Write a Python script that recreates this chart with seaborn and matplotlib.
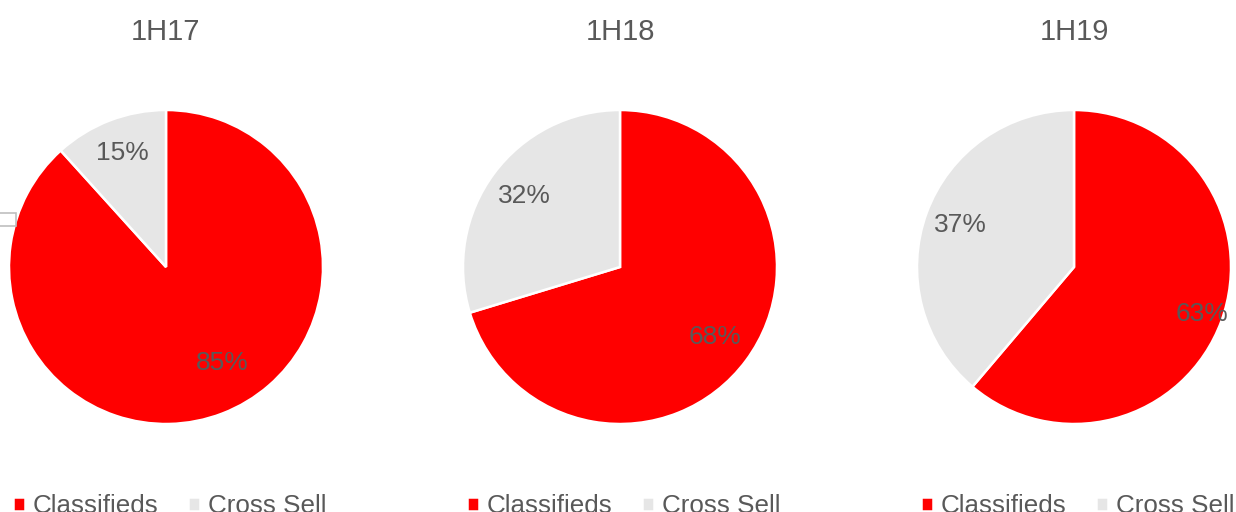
import numpy as np
import matplotlib
matplotlib.use("Agg")
import matplotlib.pyplot as plt
from matplotlib.patches import Rectangle
import seaborn as sns

# data
periods = ["1H17", "1H18", "1H19"]
segments = ["Classifieds", "Cross Sell"]
# printed labels
classifieds_lbl = [85, 68, 63]
cross_sell_lbl = [15, 32, 37]
# slice sizes as drawn in the picture (slightly differ from the printed labels)
classifieds = [88.3, 70.3, 61.2]
cross_sell = [11.7, 29.7, 38.8]

colors = ["#FF0000", "#E6E6E6"]
text_color = "#595959"

sns.set_theme(style="white")
plt.rcParams["font.family"] = ["Liberation Sans", "DejaVu Sans"]

W, H = 1236, 512
fig = plt.figure(figsize=(W / 100, H / 100), dpi=100)

centers_x = [166, 620, 1074]
cy, r = 267, 157
# label distance (fraction of radius) and angle nudge per slice, Excel "best fit" style
label_dist = [(0.71, 0.78), (0.75, 0.76), (0.87, 0.77)]
label_nudge = [(9, 0), (0, 0), (0, 0)]

for i, period in enumerate(periods):
    cx = centers_x[i]
    ax = fig.add_axes([(cx - r) / W, (H - cy - r) / H, 2 * r / W, 2 * r / H])
    vals = [classifieds[i], cross_sell[i]]
    lbls = [classifieds_lbl[i], cross_sell_lbl[i]]
    wedges, _ = ax.pie(
        vals, colors=colors, startangle=90, counterclock=False,
        wedgeprops=dict(edgecolor="white", linewidth=1.8, clip_on=False),
    )
    ax.set_xlim(-1, 1)
    ax.set_ylim(-1, 1)
    ax.set_aspect("equal")
    ax.axis("off")

    for w, v, d, n in zip(wedges, lbls, label_dist[i], label_nudge[i]):
        ang = np.deg2rad((w.theta1 + w.theta2) / 2 + n)
        ax.text(d * np.cos(ang), d * np.sin(ang), f"{v}%", ha="center", va="center",
                fontsize=19, color=text_color)

    fig.text(cx / W, 1 - 32 / H, period, ha="center", va="center",
             fontsize=21, color=text_color)

    leg = fig.legend(
        wedges, segments, loc="center left",
        bbox_to_anchor=((cx - 166 + 13) / W, 6 / H),
        ncol=2, frameon=False, fontsize=18.7, handlelength=0.45, handleheight=0.45,
        handletextpad=0.3, columnspacing=1.15, borderpad=0, borderaxespad=0,
    )
    for t in leg.get_texts():
        t.set_color(text_color)

# stray outline box on the left edge of the original slide
fig.patches.append(Rectangle((-2 / W, (H - 226) / H), 18 / W, 13 / H,
                             transform=fig.transFigure, fill=False,
                             edgecolor="#BFBFBF", linewidth=1.2))

fig.savefig("out.png", dpi=100)
